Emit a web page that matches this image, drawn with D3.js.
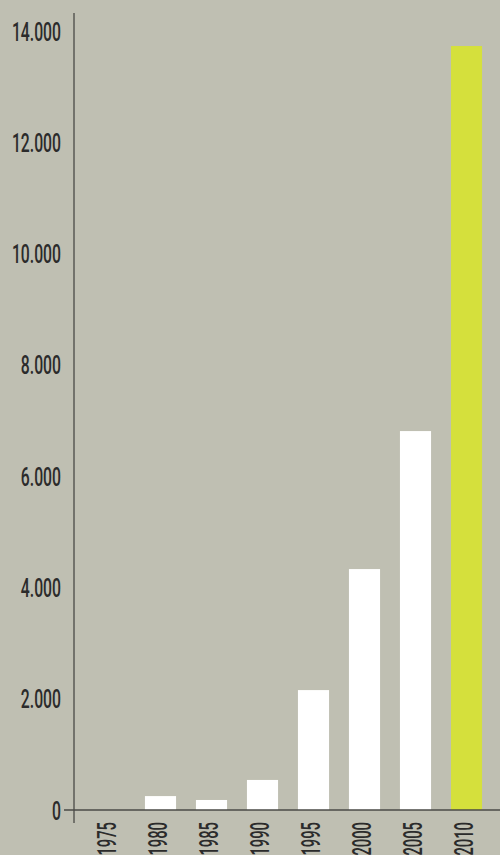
<!DOCTYPE html>
<html>
<head>
<meta charset="utf-8">
<script src="https://cdn.jsdelivr.net/npm/d3@7"></script>
<style>
  html, body { margin: 0; padding: 0; background: #bfbfb2; }
  svg { display: block; }
</style>
</head>
<body>
<div id="chart"></div>
<script>
// Data
const years = ["1975", "1980", "1985", "1990", "1995", "2000", "2005", "2010"];
const values = [0, 250, 180, 540, 2155, 4330, 6810, 13730];
const yTicks = [0, 2000, 4000, 6000, 8000, 10000, 12000, 14000];
const highlight = "2010";

const width = 500, height = 855;
const squeeze = 0.63; // condensed look of the labels

const svg = d3.select("#chart")
    .append("svg")
    .attr("width", width)
    .attr("height", height)
    .style("background-color", "#bfbfb2");

// Scales
const x = d3.scaleBand()
    .domain(years)
    .range([84, 492])
    .paddingInner(0.39)
    .paddingOuter(0.195);

const y = d3.scaleLinear()
    .domain([0, 14000])
    .range([810, 31]);

// Bars
svg.selectAll("rect.bar")
    .data(years.map((d, i) => ({ year: d, value: values[i] })))
    .join("rect")
    .attr("class", "bar")
    .attr("x", d => x(d.year))
    .attr("y", d => y(d.value))
    .attr("width", x.bandwidth())
    .attr("height", d => y(0) - y(d.value))
    .attr("fill", d => d.year === highlight ? "#d5e03c" : "#ffffff");

// Y axis (labels only, plus a plain vertical line)
const yAxis = svg.append("g")
    .attr("transform", "translate(74,0)")
    .call(d3.axisLeft(y).tickValues(yTicks).tickSize(0)
        .tickFormat(d => d3.format(",")(d).replace(/,/g, ".")));
yAxis.select(".domain").remove();
yAxis.selectAll("text")
    .attr("x", -13 / squeeze)
    .attr("dy", "0.36em")
    .attr("transform", `scale(${squeeze},1)`)
    .style("font-family", "Roboto, sans-serif")
    .style("font-weight", 500)
    .style("font-size", "25px")
    .style("fill", "#2b2b2b");

svg.append("line")
    .attr("x1", 74).attr("x2", 74)
    .attr("y1", 13).attr("y2", 823)
    .attr("stroke", "#4a4a46")
    .attr("stroke-width", 1.3);

// X axis with rotated year labels
const xAxis = svg.append("g")
    .attr("transform", `translate(0,${y(0)})`)
    .call(d3.axisBottom(x).tickSize(0));
xAxis.select(".domain").remove();
xAxis.selectAll("text")
    .attr("x", 0)
    .attr("y", 0)
    .attr("dy", "0.36em")
    .attr("text-anchor", "end")
    .attr("transform", `translate(-3,12) rotate(-90) scale(0.59,1)`)
    .style("font-family", "Roboto, sans-serif")
    .style("font-weight", 500)
    .style("font-size", "25px")
    .style("fill", "#2b2b2b");

svg.append("line")
    .attr("x1", 64).attr("x2", width)
    .attr("y1", y(0)).attr("y2", y(0))
    .attr("stroke", "#4a4a46")
    .attr("stroke-width", 1.3);
</script>
</body>
</html>
